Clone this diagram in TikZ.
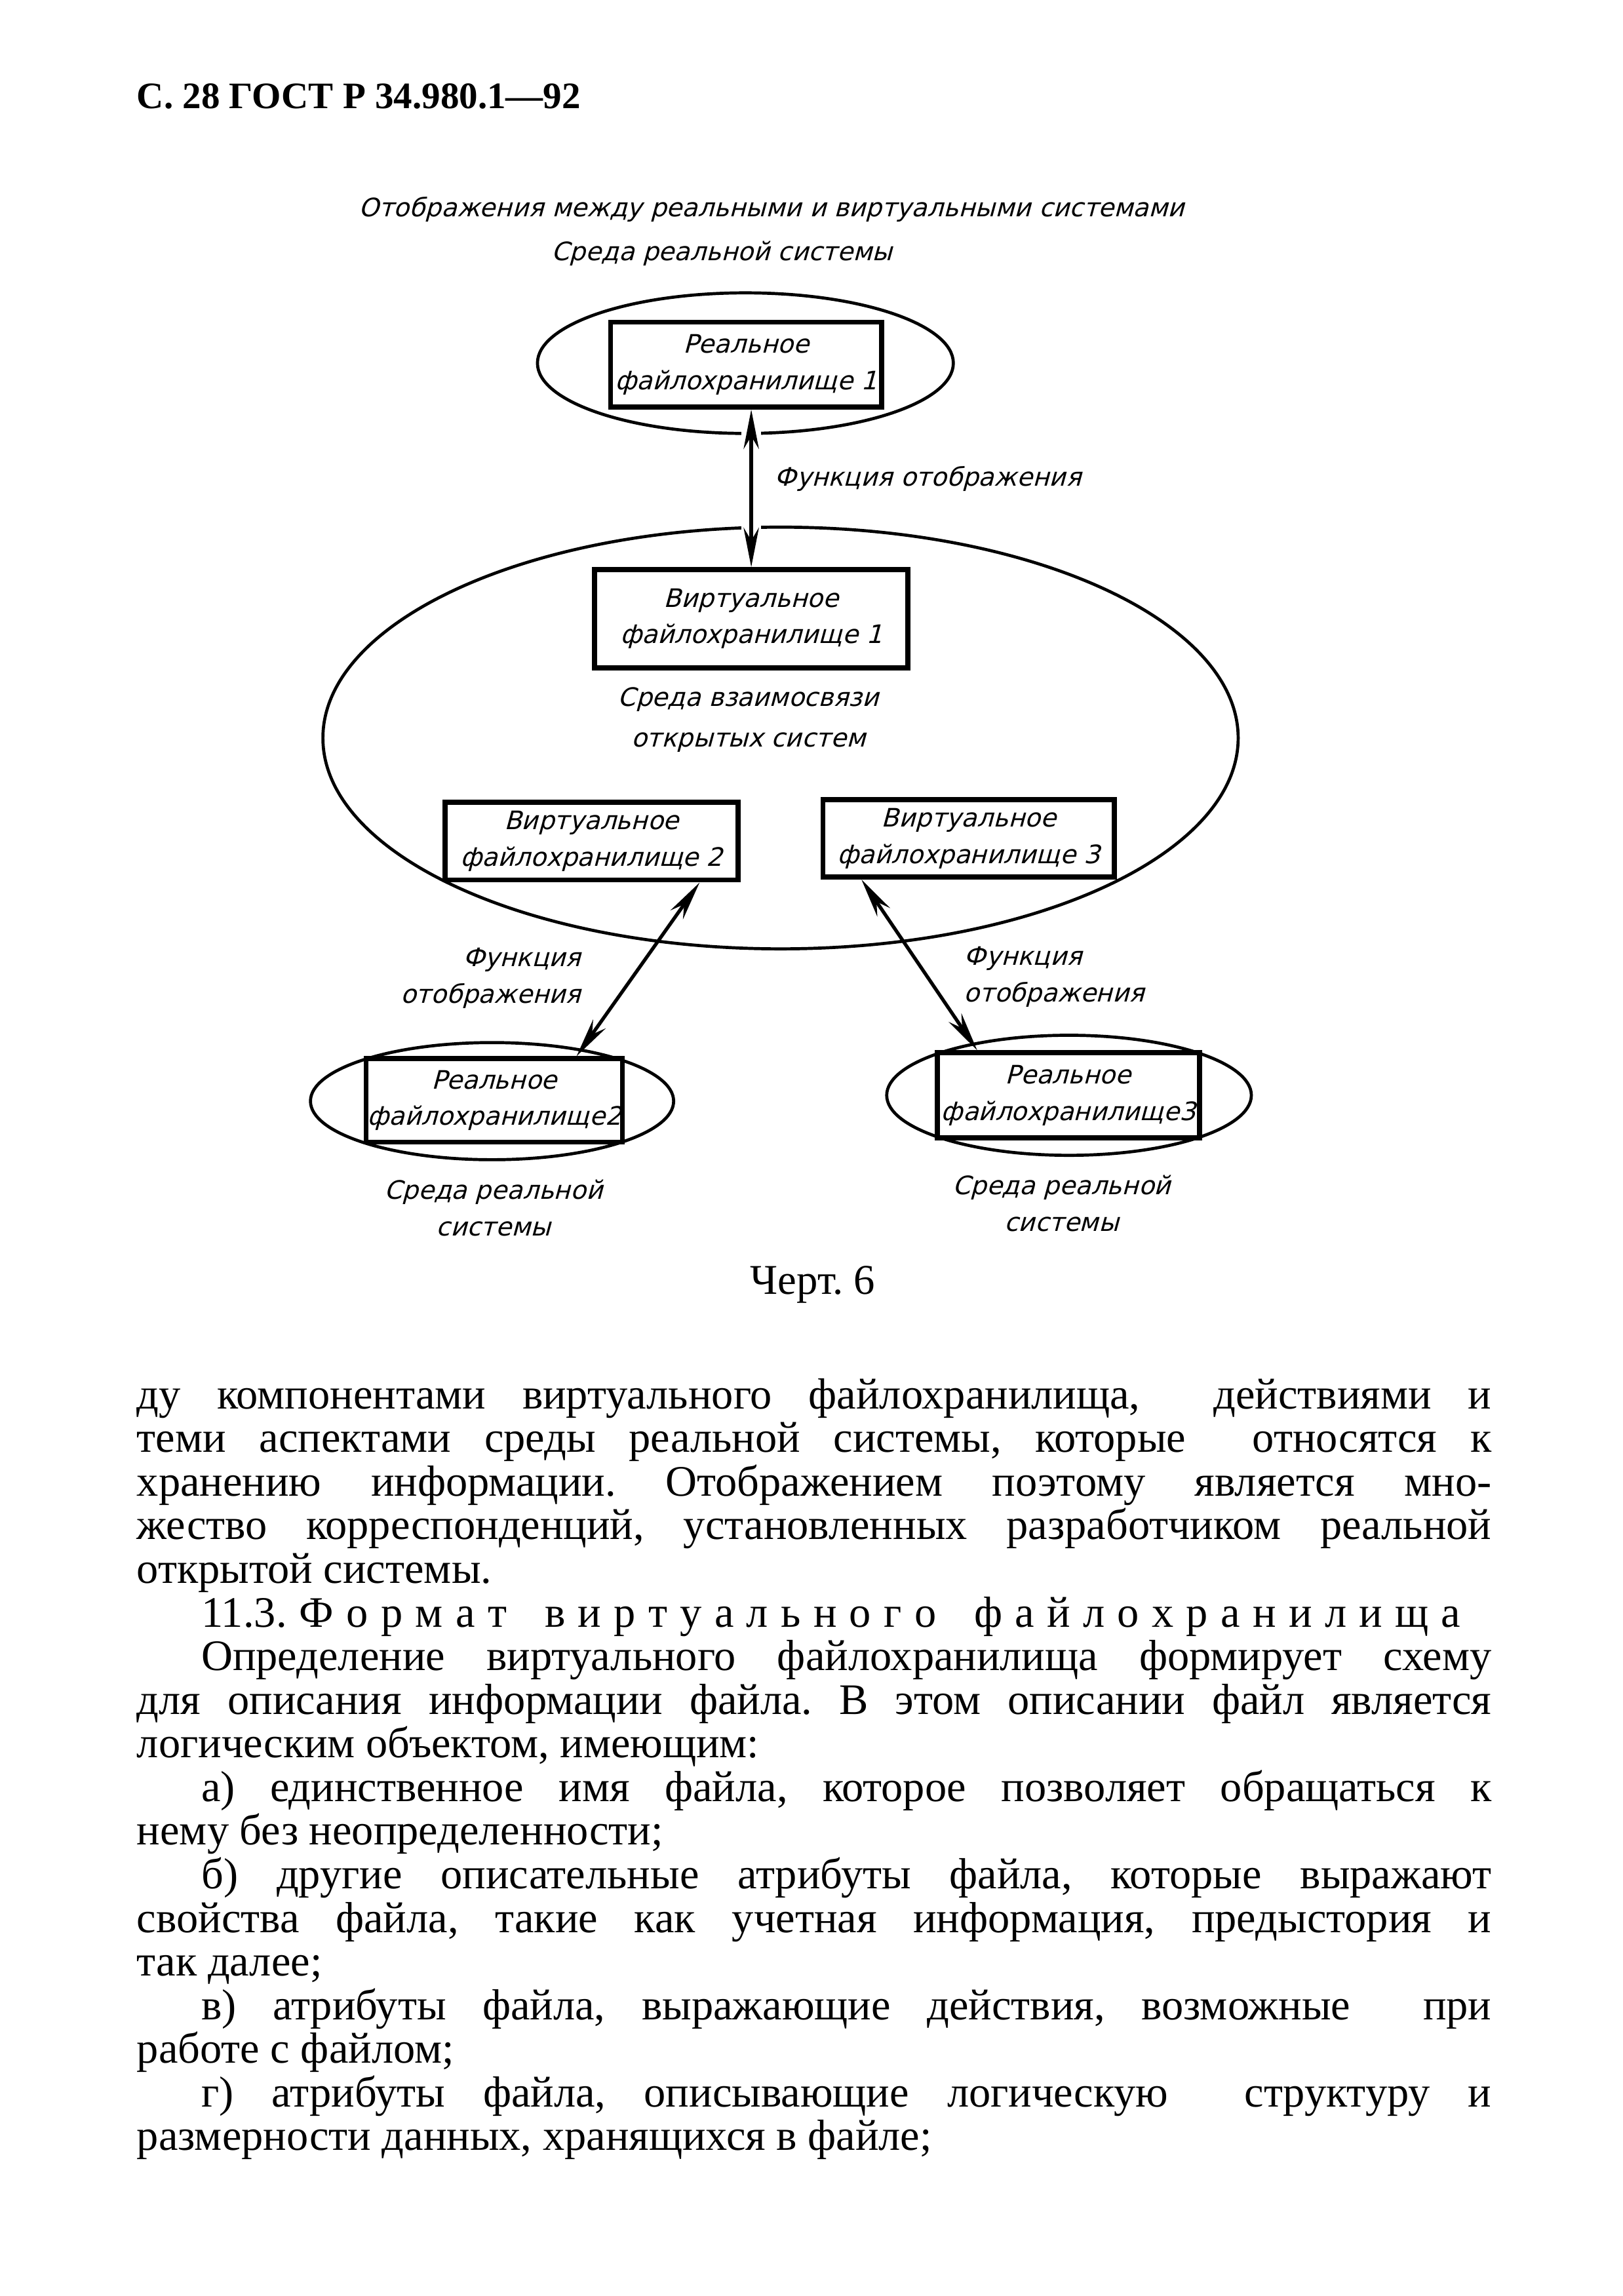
\documentclass[tikz,border=0pt]{standalone}
\usepackage{fontspec}
\setmainfont{Liberation Serif}
\newfontfamily\bodyfont{Liberation Serif}
\newfontfamily\gostfont[FakeSlant=0.27]{DejaVu Sans}
\usetikzlibrary{shapes.geometric,arrows.meta,calc}
\newlength\pxu
\setlength\pxu{0.13357mm}
\frenchspacing

\begin{document}
\begin{tikzpicture}[x=\pxu,y=-\pxu,
	gost/.style={font=\gostfont\fontsize{6.6}{9.5}\selectfont},
	store/.style={gost,draw,fill=white,line width=1.3pt,inner sep=0pt,align=center},
	env/.style={ellipse,draw,line width=0.8pt,inner sep=0pt},
	map/.style={{Stealth[length=3.6mm,width=1.4mm]}-{Stealth[length=3.6mm,width=1.4mm]},line width=0.9pt},
	gap/.style={preaction={draw=white,line width=5pt,-}},
	bodyline/.style={anchor=base west,inner sep=0pt,font=\bodyfont\fontsize{11.3}{13.6}\selectfont}]

	% page
	\useasboundingbox (0,0) rectangle (1108,1568);

	% header
	\node[anchor=base west,inner sep=0pt,font=\bfseries\fontsize{9.7}{11}\selectfont] (header) at (93,74) {С. 28 ГОСТ Р 34.980.1---92};

	% titles
	\node[gost] (title) at (527,143) {Отображения между реальными и виртуальными системами};
	\node[gost] (envlabel1) at (493,173) {Среда реальной системы};

	% environments
	\node[env,minimum width=284\pxu,minimum height=96\pxu] (env1) at (509,248) {};
	\node[env,minimum width=625\pxu,minimum height=288\pxu] (osenv) at (533,504) {};
	\node[env,minimum width=248\pxu,minimum height=80\pxu] (env2) at (336,752) {};
	\node[env,minimum width=249\pxu,minimum height=82\pxu] (env3) at (730,748) {};

	% file stores
	\node[store,minimum width=185\pxu,minimum height=58\pxu] (r1) at (509.5,249) {Реальное\\файлохранилище 1};
	\node[store,minimum width=214\pxu,minimum height=67\pxu] (v1) at (513,422.5) {Виртуальное\\файлохранилище 1};
	\node[store,minimum width=200\pxu,minimum height=53\pxu] (v2) at (404,574.5) {Виртуальное\\файлохранилище 2};
	\node[store,minimum width=199\pxu,minimum height=53\pxu] (v3) at (661.5,572.5) {Виртуальное\\файлохранилище 3};
	\node[store,minimum width=175\pxu,minimum height=57\pxu] (r2) at (337.5,751.5) {Реальное\\файлохранилище2};
	\node[store,minimum width=179\pxu,minimum height=58\pxu] (r3) at (729.5,748) {Реальное\\файлохранилище3};

	% OSI environment label
	\node[gost,align=center] (oslabel) at (511,491.5) {Среда взаимосвязи\\[1pt]открытых систем};

	% mapping functions
	\draw[map,gap] (r1.south -| v1.north) -- node[gost,anchor=west,pos=0.44,xshift=0.8mm] (maplabel1) {Функция отображения} (v1.north);
	\draw[map] ($(v2.south east)+(-28,0)$) -- ($(r2.north east)+(-33,0)$);
	\node[gost,align=right,anchor=east] (maplabel2) at (406,668) {Функция\\отображения};
	\draw[map] ($(v3.south west)+(28,0)$) -- ($(r3.north west)+(29,0)$);
	\node[gost,align=left,anchor=west] (maplabel3) at (649,667) {Функция\\отображения};

	% real environment labels
	\node[gost,align=center] (envlabel2) at (337,825) {Среда реальной\\системы};
	\node[gost,align=center] (envlabel3) at (725,822) {Среда реальной\\системы};

	% caption
	\node[anchor=base,inner sep=0pt,font=\bodyfont\fontsize{11}{13}\selectfont] (caption) at (555,884) {Черт. 6};

	% text
	\node[bodyline] (l1) at (93,962) {\makebox[925\pxu][s]{ду компонентами виртуального файлохранилища,\ \ действиями и}};
	\node[bodyline] (l2) at (93,991.8) {\makebox[925\pxu][s]{теми аспектами среды реальной системы, которые\ \ относятся к}};
	\node[bodyline] (l3) at (93,1021.6) {\makebox[925\pxu][s]{хранению информации. Отображением поэтому является мно-}};
	\node[bodyline] (l4) at (93,1051.4) {\makebox[925\pxu][s]{жество корреспонденций, установленных разработчиком реальной}};
	\node[bodyline] (l5) at (93,1081.2) {открытой системы.};
	\node[bodyline] (l6) at (137,1111) {\makebox[860\pxu][s]{11.3. Ф о р м а т \ \ в и р т у а л ь н о г о \ \ ф а й л о х р а н и л и щ а}};
	\node[bodyline] (l7) at (137,1140.8) {\makebox[881\pxu][s]{Определение виртуального файлохранилища формирует схему}};
	\node[bodyline] (l8) at (93,1170.6) {\makebox[925\pxu][s]{для описания информации файла. В этом описании файл является}};
	\node[bodyline] (l9) at (93,1200.4) {логическим объектом, имеющим:};
	\node[bodyline] (l10) at (137,1230.2) {\makebox[881\pxu][s]{а) единственное имя файла, которое позволяет обращаться к}};
	\node[bodyline] (l11) at (93,1260) {нему без неопределенности;};
	\node[bodyline] (l12) at (137,1289.8) {\makebox[881\pxu][s]{б) другие описательные атрибуты файла, которые выражают}};
	\node[bodyline] (l13) at (93,1319.6) {\makebox[925\pxu][s]{свойства файла, такие как учетная информация, предыстория и}};
	\node[bodyline] (l14) at (93,1349.4) {так далее;};
	\node[bodyline] (l15) at (137,1379.2) {\makebox[881\pxu][s]{в) атрибуты файла, выражающие действия, возможные\ \ при}};
	\node[bodyline] (l16) at (93,1409) {работе с файлом;};
	\node[bodyline] (l17) at (137,1438.8) {\makebox[881\pxu][s]{г) атрибуты файла, описывающие логическую\ \ структуру и}};
	\node[bodyline] (l18) at (93,1468.6) {размерности данных, хранящихся в файле;};

\end{tikzpicture}
\end{document}
